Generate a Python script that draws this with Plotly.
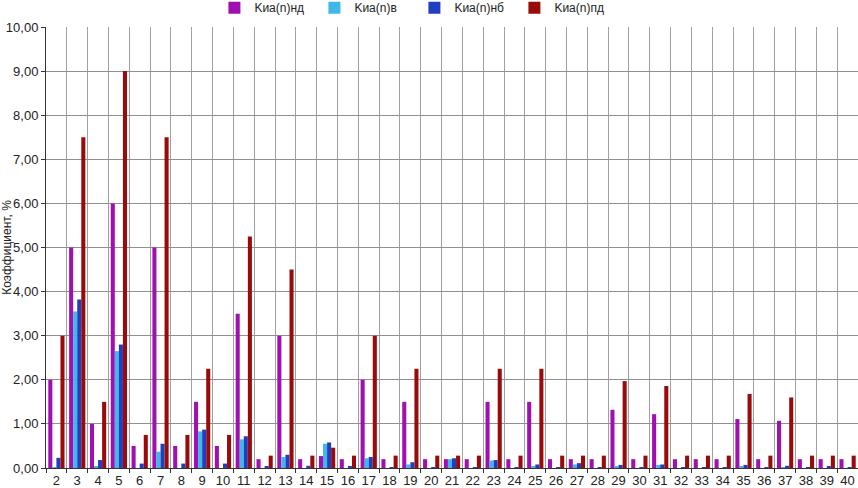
import plotly.graph_objects as go

categories = [str(i) for i in range(2, 41)]

k_nd = [2.0, 5.0, 1.0, 6.0, 0.5, 5.0, 0.5, 1.5, 0.5, 3.5,
        0.2, 3.0, 0.2, 0.27, 0.2, 2.0, 0.2, 1.5, 0.2, 0.2,
        0.2, 1.5, 0.2, 1.5, 0.2, 0.2, 0.2, 1.32, 0.2, 1.22,
        0.2, 0.2, 0.2, 1.11, 0.2, 1.07, 0.2, 0.2, 0.2]
k_v = [0.02, 3.55, 0.03, 2.65, 0.0, 0.37, 0.0, 0.83, 0.0, 0.65,
       0.0, 0.25, 0.0, 0.55, 0.0, 0.22, 0.0, 0.08, 0.0, 0.2,
       0.0, 0.17, 0.0, 0.03, 0.0, 0.08, 0.0, 0.03, 0.0, 0.07,
       0.0, 0.0, 0.0, 0.03, 0.0, 0.02, 0.0, 0.0, 0.0]
k_nb = [0.23, 3.82, 0.18, 2.8, 0.1, 0.55, 0.1, 0.87, 0.1, 0.72,
        0.03, 0.3, 0.05, 0.58, 0.03, 0.25, 0.01, 0.13, 0.01, 0.22,
        0.01, 0.18, 0.02, 0.08, 0.02, 0.11, 0.02, 0.07, 0.02, 0.08,
        0.02, 0.02, 0.02, 0.07, 0.02, 0.05, 0.02, 0.03, 0.02]
k_pd = [3.0, 7.5, 1.5, 9.0, 0.75, 7.5, 0.75, 2.25, 0.75, 5.25,
        0.28, 4.5, 0.28, 0.46, 0.28, 3.0, 0.28, 2.25, 0.28, 0.28,
        0.28, 2.25, 0.28, 2.25, 0.28, 0.28, 0.28, 1.97, 0.28, 1.86,
        0.28, 0.28, 0.28, 1.68, 0.28, 1.6, 0.28, 0.28, 0.28]

series = [
    ("Kиа(n)нд", k_nd, "#A010B0"),
    ("Kиа(n)в", k_v, "#3FB8E8"),
    ("Kиа(n)нб", k_nb, "#1F3FC0"),
    ("Kиа(n)пд", k_pd, "#9A0A0A"),
]

fig = go.Figure()
for name, vals, color in series:
    fig.add_trace(go.Bar(x=categories, y=vals, name=name,
                         marker=dict(color=color, line=dict(width=0))))

fig.update_layout(
    width=858, height=488,
    barmode="group", bargap=0.22, bargroupgap=0,
    separators=", ",
    plot_bgcolor="white", paper_bgcolor="white",
    font=dict(family="Liberation Sans, Arial, sans-serif", size=13, color="#222"),
    margin=dict(l=46, r=0, t=27, b=20, autoexpand=False),
    legend=dict(orientation="h", x=0.483, xanchor="center", y=0.984, yanchor="middle",
                xref="container", yref="container", font=dict(size=12),
                entrywidth=55, entrywidthmode="pixels", traceorder="normal",
                itemwidth=30),
    showlegend=True,
)
fig.update_xaxes(type="category", tickson="boundaries", showgrid=True,
                 gridcolor="#a0a0a0", gridwidth=1, ticks="outside", ticklen=4,
                 tickcolor="#333", showline=True, linecolor="#333",
                 tickangle=0, automargin=False, tickfont=dict(size=13))
fig.update_yaxes(range=[0, 10], dtick=1, tickformat=".2f", showgrid=True,
                 gridcolor="#909090", gridwidth=1, ticks="outside", ticklen=4,
                 tickcolor="#333", showline=True, linecolor="#333",
                 automargin=False, tickfont=dict(size=13),
                 title=dict(text="Коэффициент, %", font=dict(size=12)),
                 zeroline=False)

# browser default body margin would shift the 858x488 figure
fig.write_html("out.html", config={"displayModeBar": False},
               post_script="document.body.style.margin='0';")
